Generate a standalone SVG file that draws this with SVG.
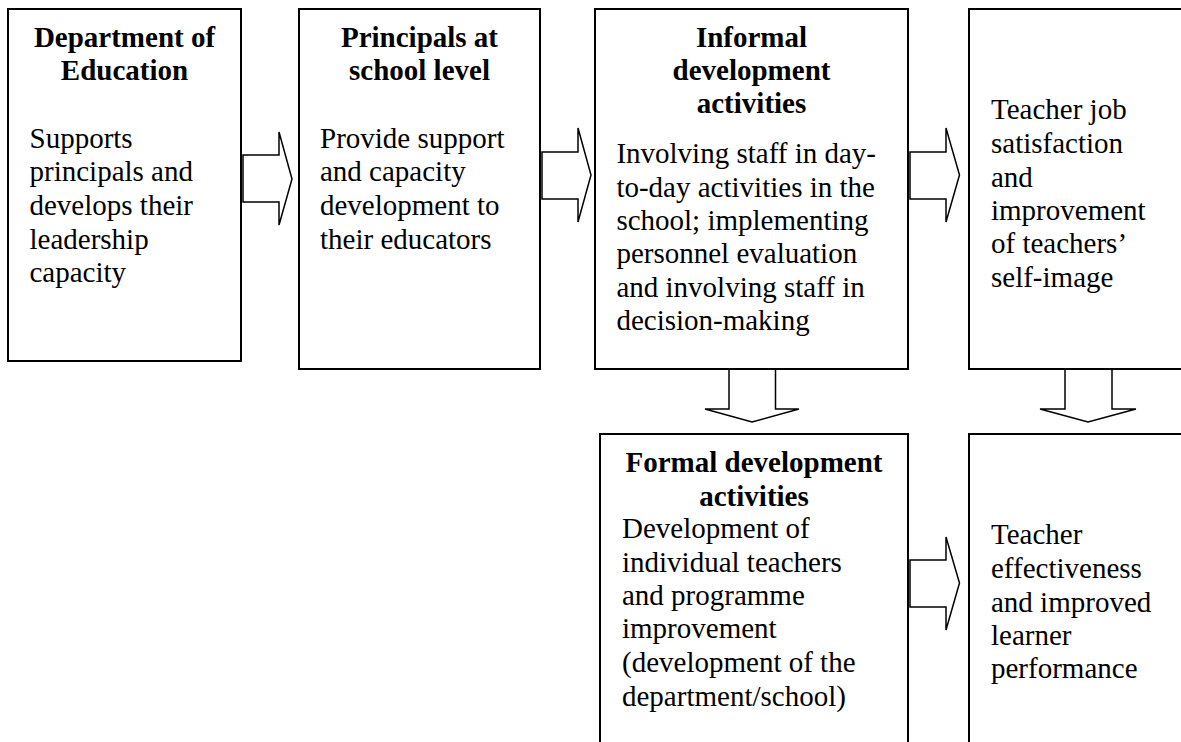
<svg xmlns="http://www.w3.org/2000/svg" width="1181" height="742" viewBox="0 0 1181 742">
<style>
.box{fill:#fff;stroke:#000;stroke-width:2}
.arr{fill:#fff;stroke:#000;stroke-width:1.5;stroke-linejoin:miter}
text{font-family:"Liberation Serif","Times New Roman",serif;font-size:29px;fill:#000}
.h{font-weight:bold;text-anchor:middle}
</style>
<rect width="1181" height="742" fill="#fff"/>
<g id="connectors">
<polygon class="arr" points="243,155 279,155 279,132 292,179 279,225 279,202 243,202"/>
<polygon class="arr" points="542,152 578,152 578,128 591,175 578,222 578,199 542,199"/>
<polygon class="arr" points="910,152 946,152 946,128 959.5,175 946,222 946,199 910,199"/>
<polygon class="arr" points="910,560 946,560 946,537 959.5,583 946,630 946,607 910,607"/>
<polygon class="arr" points="729,369 775.5,369 775.5,409 799,409 752,422 705,409 729,409"/>
<polygon class="arr" points="1065,369 1112,369 1112,409 1136,409 1088,422 1040,409 1065,409"/>
</g>
<g id="node-doe">
<rect class="box" x="8" y="9" width="233" height="352"/>
<text class="h" x="124.5" y="46.7">Department of</text>
<text class="h" x="124.5" y="80">Education</text>
<text x="29.5" y="147.7">Supports</text>
<text x="29.5" y="181.3">principals and</text>
<text x="29.5" y="214.9">develops their</text>
<text x="29.5" y="248.5">leadership</text>
<text x="29.5" y="282.1">capacity</text>
</g>
<g id="node-principals">
<rect class="box" x="299" y="9" width="241" height="360"/>
<text class="h" x="419.5" y="46.7">Principals at</text>
<text class="h" x="419.5" y="80">school level</text>
<text x="320" y="147.7">Provide support</text>
<text x="320" y="181.3">and capacity</text>
<text x="320" y="214.9">development to</text>
<text x="320" y="248.5">their educators</text>
</g>
<g id="node-informal">
<rect class="box" x="595" y="9" width="313" height="360"/>
<text class="h" x="751.5" y="46.7">Informal</text>
<text class="h" x="751.5" y="80">development</text>
<text class="h" x="751.5" y="113.3">activities</text>
<text x="616.4" y="163.3">Involving staff in day-</text>
<text x="616.4" y="196.7">to-day activities in the</text>
<text x="616.4" y="230">school; implementing</text>
<text x="616.4" y="263.3">personnel evaluation</text>
<text x="616.4" y="296.7">and involving staff in</text>
<text x="616.4" y="330">decision-making</text>
</g>
<g id="node-satisfaction">
<rect class="box" x="969" y="9" width="240" height="360"/>
<text x="991" y="119.3">Teacher job</text>
<text x="991" y="153.3">satisfaction</text>
<text x="991" y="186.7">and</text>
<text x="991" y="220">improvement</text>
<text x="991" y="253.3">of teachers’</text>
<text x="991" y="286.7">self-image</text>
</g>
<g id="node-formal">
<rect class="box" x="600" y="434" width="308" height="340"/>
<text class="h" x="754" y="471.7">Formal development</text>
<text class="h" x="754" y="505.7">activities</text>
<text x="622" y="538.3">Development of</text>
<text x="622" y="571.7">individual teachers</text>
<text x="622" y="605">and programme</text>
<text x="622" y="638.3">improvement</text>
<text x="622" y="672.3">(development of the</text>
<text x="622" y="705.7">department/school)</text>
</g>
<g id="node-effectiveness">
<rect class="box" x="969" y="434" width="240" height="340"/>
<text x="991" y="544.3">Teacher</text>
<text x="991" y="578.3">effectiveness</text>
<text x="991" y="611.7">and improved</text>
<text x="991" y="645">learner</text>
<text x="991" y="678.3">performance</text>
</g>
</svg>
